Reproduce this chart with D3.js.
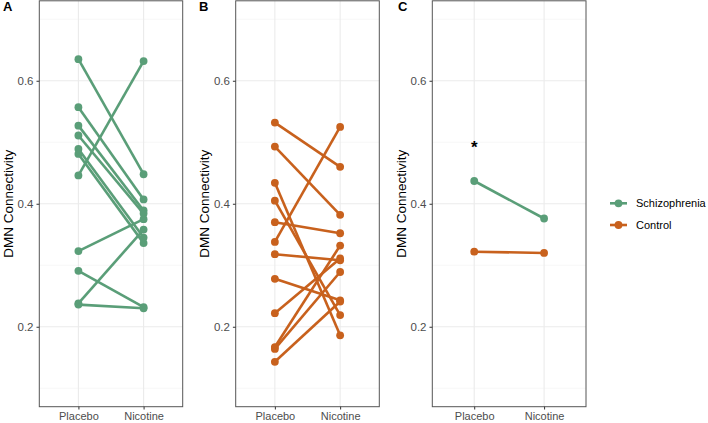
<!DOCTYPE html>
<html><head><meta charset="utf-8">
<script src="https://cdn.jsdelivr.net/npm/d3@7"></script>
<style>body{margin:0;background:#fff}svg{display:block;font-family:"Liberation Sans",Arial,sans-serif}</style>
</head><body><svg id="c" width="708" height="423"></svg>
<script>
const conditions = ["Placebo", "Nicotine"];
const yTicks = [0.2, 0.4, 0.6];
const yMinor = [0.1, 0.3, 0.5, 0.7];
const groups = ["Schizophrenia", "Control"];
const colors = ["#5a9e78", "#c8611d"];
// Panel A: schizophrenia subjects
const szPlacebo  = [0.635, 0.557, 0.527, 0.511, 0.489, 0.481, 0.446, 0.323, 0.291, 0.238, 0.236];
const szNicotine = [0.448, 0.407, 0.389, 0.384, 0.345, 0.336, 0.632, 0.375, 0.232, 0.358, 0.230];
// Panel B: control subjects
const ctPlacebo  = [0.532, 0.493, 0.434, 0.405, 0.370, 0.338, 0.318, 0.278, 0.222, 0.167, 0.164, 0.143];
const ctNicotine = [0.460, 0.382, 0.186, 0.219, 0.352, 0.525, 0.308, 0.243, 0.311, 0.332, 0.289, 0.241];
// Panel C: group means
const meanPlacebo  = [0.437, 0.322];
const meanNicotine = [0.376, 0.320];
const starValue = 0.497;

const svg = d3.select("#c");
const pTop = 0.8, pBottom = 406.7;
const y = d3.scaleLinear().domain([0.07, 0.73]).range([pBottom, pTop]);

function panel(left, right, tag, tagX, series) {
  const x = d3.scalePoint().domain(conditions).range([left, right]).padding(0.6);
  const g = svg.append("g");
  g.selectAll(".gmin").data(yMinor).join("line")
    .attr("x1", left).attr("x2", right).attr("y1", d => y(d)).attr("y2", d => y(d))
    .attr("stroke", "#f2f2f2").attr("stroke-width", 0.6);
  g.selectAll(".gmaj").data(yTicks).join("line")
    .attr("x1", left).attr("x2", right).attr("y1", d => y(d)).attr("y2", d => y(d))
    .attr("stroke", "#ebebeb").attr("stroke-width", 1.1);
  g.selectAll(".gx").data(conditions).join("line")
    .attr("x1", d => x(d)).attr("x2", d => x(d)).attr("y1", pTop).attr("y2", pBottom)
    .attr("stroke", "#ebebeb").attr("stroke-width", 1.1);
  series.forEach(s => {
    s.pl.forEach((p, i) => {
      const n = s.ni[i];
      g.append("line").attr("x1", x("Placebo")).attr("y1", y(p))
        .attr("x2", x("Nicotine")).attr("y2", y(n))
        .attr("stroke", s.color).attr("stroke-width", 2.6);
    });
    s.pl.forEach((p, i) => {
      g.append("circle").attr("cx", x("Placebo")).attr("cy", y(p)).attr("r", 3.9).attr("fill", s.color);
      g.append("circle").attr("cx", x("Nicotine")).attr("cy", y(s.ni[i])).attr("r", 3.9).attr("fill", s.color);
    });
  });
  g.append("rect").attr("x", left).attr("y", pTop).attr("width", right - left).attr("height", pBottom - pTop)
    .attr("fill", "none").attr("stroke", "#555").attr("stroke-width", 1);
  const ya = g.append("g").attr("transform", `translate(${left},0)`)
    .call(d3.axisLeft(y).tickValues(yTicks).tickFormat(d3.format(".1f")).tickSize(2.8).tickPadding(3));
  ya.select(".domain").remove();
  ya.selectAll("line").attr("stroke", "#333");
  ya.selectAll("text").attr("fill", "#4d4d4d").attr("font-size", 11.5).attr("font-family", "Liberation Sans, Arial, sans-serif");
  const xa = g.append("g").attr("transform", `translate(0,${pBottom})`)
    .call(d3.axisBottom(x).tickSize(2.8).tickPadding(3));
  xa.select(".domain").remove();
  xa.selectAll("line").attr("stroke", "#333");
  xa.selectAll("text").attr("fill", "#4d4d4d").attr("font-size", 11).attr("font-family", "Liberation Sans, Arial, sans-serif");
  g.append("text").attr("transform", `translate(${left - 26.5},${(pTop + pBottom) / 2}) rotate(-90)`)
    .attr("text-anchor", "middle").attr("font-size", 13.5).attr("fill", "#000").text("DMN Connectivity");
  g.append("text").attr("x", tagX).attr("y", 11).attr("font-size", 13).attr("font-weight", "bold").text(tag);
  return x;
}

panel(39.3, 182.7, "A", 3, [{pl: szPlacebo, ni: szNicotine, color: colors[0]}]);
panel(235.7, 379.3, "B", 199, [{pl: ctPlacebo, ni: ctNicotine, color: colors[1]}]);
const xc = panel(432.3, 586, "C", 398, [
  {pl: [meanPlacebo[0]], ni: [meanNicotine[0]], color: colors[0]},
  {pl: [meanPlacebo[1]], ni: [meanNicotine[1]], color: colors[1]}
]);
svg.append("text").attr("x", xc("Placebo")).attr("y", y(starValue)).attr("dy", "0.5em")
  .attr("text-anchor", "middle").attr("font-size", 17).attr("font-weight", "bold").text("*");

const lg = svg.append("g");
groups.forEach((gname, i) => {
  const yy = 203.3 + i * 21.7;
  lg.append("line").attr("x1", 610).attr("x2", 627).attr("y1", yy).attr("y2", yy)
    .attr("stroke", colors[i]).attr("stroke-width", 2.6);
  lg.append("circle").attr("cx", 618.5).attr("cy", yy).attr("r", 3.9).attr("fill", colors[i]);
  lg.append("text").attr("x", 636).attr("y", yy).attr("dy", "0.35em").attr("font-size", 11).text(gname);
});
</script></body></html>
